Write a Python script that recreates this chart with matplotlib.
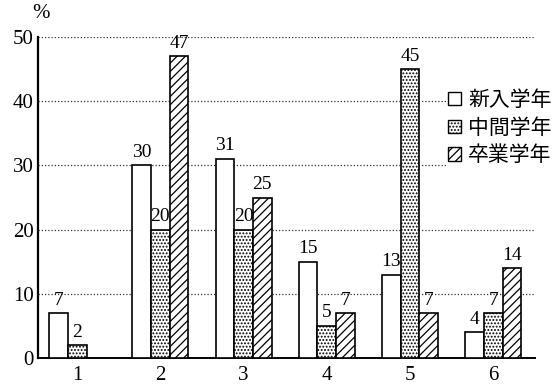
import matplotlib
matplotlib.use("Agg")
import matplotlib.pyplot as plt
from matplotlib.patches import Patch
import numpy as np

categories = ["1", "2", "3", "4", "5", "6"]
series_names = ["新入学年", "中間学年", "卒業学年"]
freshman = [7, 30, 31, 15, 13, 4]
middle = [2, 20, 20, 5, 45, 7]
graduate = [None, 47, 25, 7, 7, 14]
y_ticks = [0, 10, 20, 30, 40, 50]

series = [freshman, middle, graduate]
hatches = [None, ".....", "////"]

plt.rcParams["hatch.linewidth"] = 0.9
serif = "Liberation Serif"
cjk = ["Noto Sans CJK JP", "DejaVu Sans"]

fig = plt.figure(figsize=(5.6, 3.85), dpi=100)
ax = fig.add_axes([0.068, 0.070, 0.887, 0.834])

x = np.arange(1, len(categories) + 1)
w = 0.225
for k, (vals, hatch) in enumerate(zip(series, hatches)):
    for xi, v in zip(x, vals):
        if v is None:
            continue
        xpos = xi + (k - 1) * w
        ax.bar(xpos, v, width=w, facecolor="white", edgecolor="black",
               linewidth=1.2, hatch=hatch, zorder=3)
        ax.text(xpos, v + 0.7, str(v), ha="center", va="bottom",
                fontsize=14, family=serif, zorder=4)

ax.set_xlim(0.53, 6.5)
ax.set_ylim(0, 50)
ax.set_yticks(y_ticks)
ax.set_yticklabels([str(t) for t in y_ticks], family=serif, fontsize=15)
ax.set_xticks(x)
ax.set_xticklabels(categories, family=serif, fontsize=15)
ax.tick_params(axis="both", length=0, pad=6)
ax.tick_params(axis="y", pad=3)

for t in y_ticks[1:]:
    ax.axhline(t, color="#333333", linestyle=(0, (1, 1.6)), linewidth=0.9, zorder=1)

for side in ["top", "right"]:
    ax.spines[side].set_visible(False)
ax.spines["left"].set_linewidth(1.6)
ax.spines["bottom"].set_linewidth(1.4)

fig.text(0.058, 0.965, "%", family=serif, fontsize=15, ha="left", va="center")

handles = [Patch(facecolor="white", edgecolor="black", linewidth=1.0, hatch=h)
           for h in hatches]
leg = fig.legend(handles, series_names, loc="upper left",
                 bbox_to_anchor=(0.797, 0.775), prop={"family": cjk, "size": 15},
                 frameon=True, facecolor="white", edgecolor="none", framealpha=1,
                 handlelength=0.6, handleheight=0.6, handletextpad=0.35,
                 labelspacing=0.28, borderpad=0.1, borderaxespad=0)

fig.savefig("out.png", dpi=100, facecolor="white")
